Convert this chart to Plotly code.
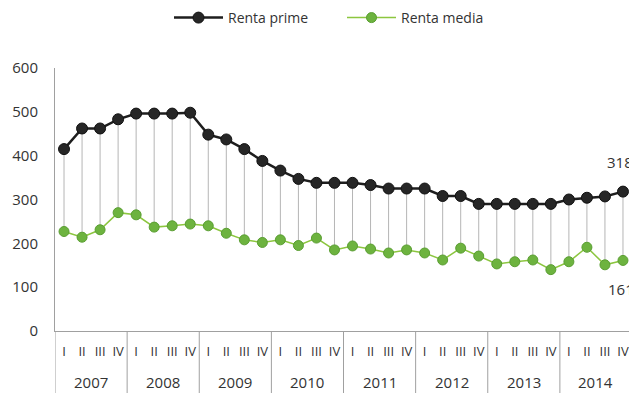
import plotly.graph_objects as go

years = ['2007', '2008', '2009', '2010', '2011', '2012', '2013', '2014']
quarters = ['I', 'II', 'III', 'IV']
renta_prime = [415, 462, 462, 483, 496, 496, 496, 498, 448, 437, 415, 388, 366, 347, 338, 338,
               338, 333, 325, 325, 325, 308, 308, 290, 290, 290, 290, 290, 300, 304, 307, 318]
renta_media = [227, 214, 231, 270, 265, 237, 240, 244, 240, 223, 208, 202, 208, 195, 212, 185,
               194, 187, 178, 185, 178, 162, 189, 171, 153, 158, 162, 140, 158, 191, 151, 161]

nq = len(quarters)
x_labels = [q for y in years for q in quarters]
x_pos = list(range(len(x_labels)))
gap = [p - m for p, m in zip(renta_prime, renta_media)]

FONT = "Open Sans"
TXT = '#333333'
AXC = '#a0a0a0'

fig = go.Figure()
fig.add_trace(go.Scatter(
    x=x_pos, y=renta_prime, name='Renta prime', mode='lines+markers',
    line=dict(color='#1e1e1e', width=2.5),
    marker=dict(size=11, color='#262626', line=dict(color='#111111', width=1)),
    error_y=dict(type='data', symmetric=False, array=[0] * len(gap), arrayminus=gap,
                 color='#b5b5b5', thickness=1, width=0),
))
fig.add_trace(go.Scatter(
    x=x_pos, y=renta_media, name='Renta media', mode='lines+markers',
    line=dict(color='#8cc63f', width=1.5),
    marker=dict(size=10, color='#6db33f', line=dict(color='#5a9e32', width=1)),
))

# end labels
fig.add_annotation(x=x_pos[-1], y=renta_prime[-1], text=str(renta_prime[-1]), showarrow=False,
                   xshift=-3, yshift=30, font=dict(size=15, color=TXT, family=FONT))
fig.add_annotation(x=x_pos[-1], y=renta_media[-1], text=str(renta_media[-1]), showarrow=False,
                   xshift=-2, yshift=-29, font=dict(size=15, color=TXT, family=FONT))

# year labels and dividers
for k, yr in enumerate(years):
    fig.add_annotation(x=k * nq + (nq - 1) / 2, y=0, xref='x', yref='paper', text=yr,
                       showarrow=False, yanchor='middle', yshift=-51,
                       font=dict(size=15, color=TXT, family=FONT))
for k in range(len(years) + 1):
    fig.add_shape(type='line', xref='x', yref='paper', x0=k * nq - 0.5, x1=k * nq - 0.5,
                  y0=0, y1=-0.3, line=dict(color=AXC, width=1))

fig.update_layout(
    width=629, height=385,
    margin=dict(l=47, r=5, t=60, b=62),
    plot_bgcolor='white', paper_bgcolor='white',
    font=dict(family=FONT, color=TXT, size=14),
    showlegend=True,
    legend=dict(orientation='h', xref='container', x=161 / 629, xanchor='left',
                yref='container', y=1 - 10 / 385, yanchor='middle',
                font=dict(size=14, color=TXT), itemwidth=49,
                entrywidth=109, entrywidthmode='pixels'),
    xaxis=dict(range=[-0.5, len(x_labels) - 0.5], tickvals=x_pos, ticktext=x_labels,
               tickangle=0, showline=True, linecolor=AXC, linewidth=1, showgrid=False,
               zeroline=False, ticks='', tickfont=dict(size=13, color=TXT),
               ticklabelstandoff=8, automargin=False),
    yaxis=dict(range=[0, 600], tickvals=[0, 100, 200, 300, 400, 500, 600], showgrid=False,
               showline=True, linecolor=AXC, linewidth=1, ticks='', zeroline=False,
               tickfont=dict(size=15, color=TXT), ticklabelstandoff=13, automargin=False),
)
fig.write_html("out.html")
